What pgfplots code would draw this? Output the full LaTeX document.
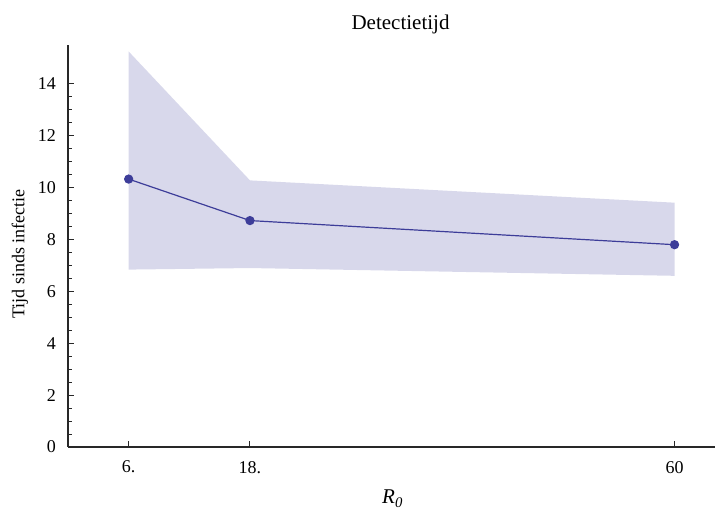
\documentclass[border=0pt]{standalone}
\usepackage{fontspec}
\setmainfont{Liberation Serif}
\usepackage{pgfplots}
\pgfplotsset{compat=1.18}
\definecolor{mline}{RGB}{61,61,153}
\definecolor{mband}{RGB}{216,216,235}
\definecolor{axgray}{RGB}{40,40,40}
\begin{document}
\begin{tikzpicture}
\useasboundingbox (-34pt,-33pt) rectangle (325pt,223.5pt);
\begin{axis}[
  at={(0,0)}, anchor=south west,
  scale only axis, width=323.5pt, height=201pt,
  xmin=0, xmax=64, ymin=0, ymax=15.5,
  axis x line=bottom, axis y line=left,
  axis line style={-, line width=0.6pt, axgray},
  xtick={6,18,60}, xticklabels={6.,18.,60},
  ytick={0,2,4,6,8,10,12,14}, minor y tick num=3,
  tick align=inside, major tick length=3.2pt, minor tick length=1.8pt,
  tick style={line width=0.5pt, axgray},
  /pgf/number format/assume math mode=true,
  ticklabel style={font=\fontsize{9}{10}\selectfont},
  xticklabel style={yshift=-3.5pt},
  yticklabel style={xshift=-2.5pt},
  title={Detectietijd},
  title style={at={(rel axis cs:0.514,1)}, anchor=base, yshift=1.8pt, font=\fontsize{10.5}{12}\selectfont},
  xlabel={\textit{R}\textsubscript{\textit{0}}},
  xlabel style={at={(rel axis cs:0.502,0)}, anchor=base, yshift=-28.5pt, font=\fontsize{10.5}{12}\selectfont},
  ylabel={Tijd sinds infectie},
  ylabel style={at={([xshift=-24pt]rel axis cs:0,0.48)}, anchor=center, font=\fontsize{9}{10}\selectfont},
  clip=false,
]
\addplot[fill=mband, draw=none] coordinates {(6,15.25) (18,10.28) (60,9.42) (60,6.6) (18,6.9) (6,6.84)} -- cycle;
\addplot[mline, line width=0.6pt, mark=*, mark size=2pt, mark options={fill=mline, draw=mline}] coordinates {(6,10.33) (18,8.73) (60,7.8)};
\end{axis}
\end{tikzpicture}
\end{document}
